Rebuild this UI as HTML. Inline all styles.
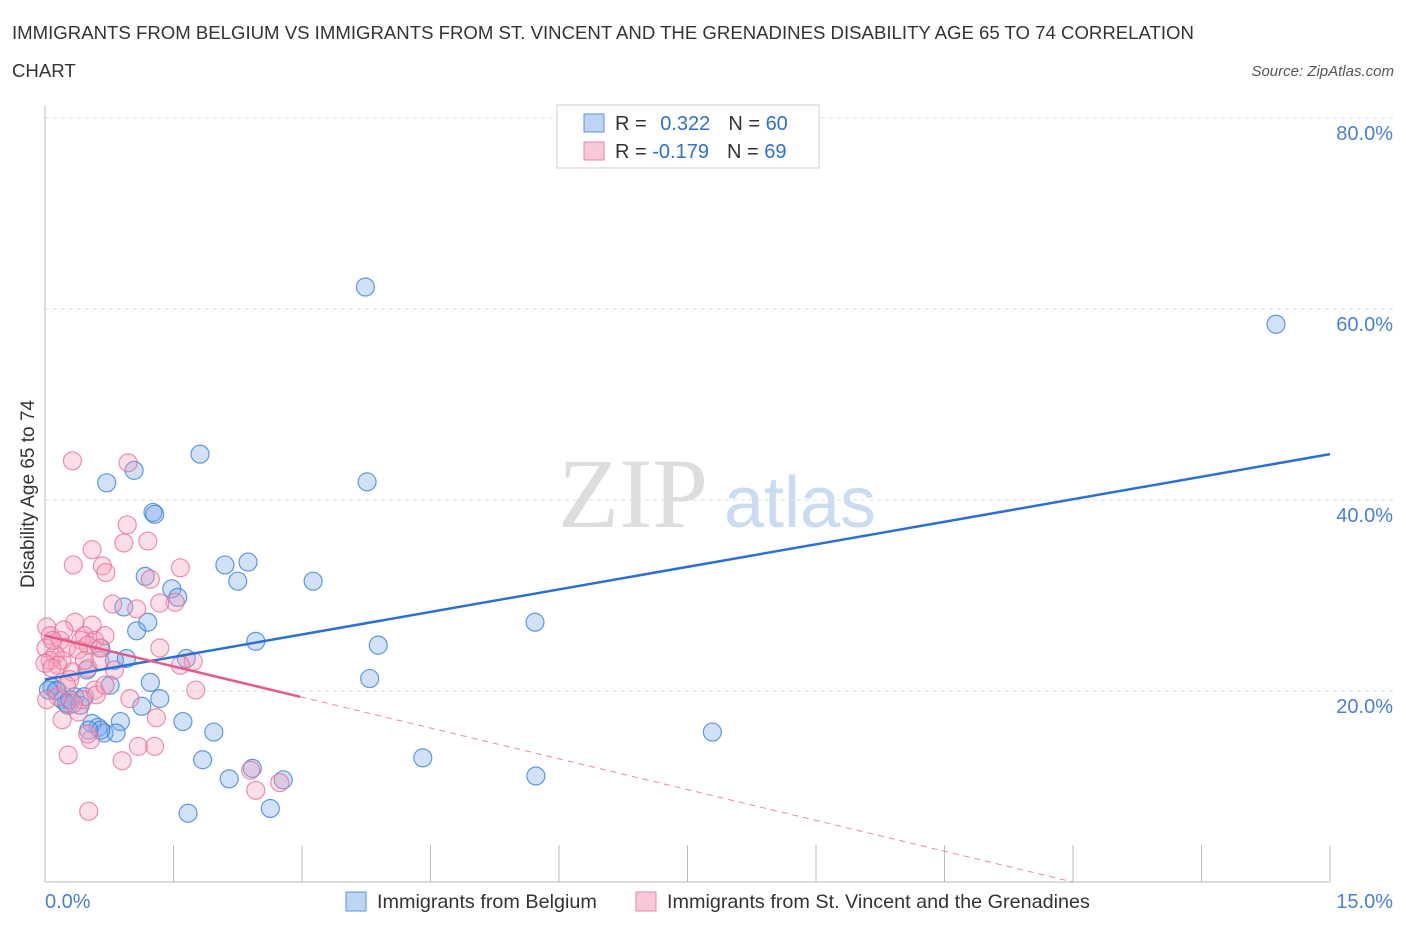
<!DOCTYPE html>
<html><head><meta charset="utf-8"><style>
body{margin:0;background:#fff;font-family:"Liberation Sans",sans-serif}
</style></head><body>
<svg id="chart" width="1406" height="930" xmlns="http://www.w3.org/2000/svg">
<text x="12" y="39" font-size="18.6" fill="#333">IMMIGRANTS FROM BELGIUM VS IMMIGRANTS FROM ST. VINCENT AND THE GRENADINES DISABILITY AGE 65 TO 74 CORRELATION</text>
<text x="12" y="77" font-size="18.6" fill="#333">CHART</text>
<text x="1394" y="76" font-size="15" fill="#555" text-anchor="end" font-style="italic">Source: ZipAtlas.com</text>
<g>
<text x="633" y="527" font-size="100" fill="#ddd" font-family="Liberation Serif,serif" text-anchor="middle">ZIP</text>
<text x="800" y="527" font-size="72" fill="#c9dcf2" text-anchor="middle">atlas</text>
</g>
<g id="grid"></g>
<g id="marks"></g>
<text transform="translate(34,494) rotate(-90)" font-size="19" fill="#333" text-anchor="middle">Disability Age 65 to 74</text>
<g>
<rect x="557" y="105" width="262" height="63" fill="#fff" stroke="#ccc"/>
<rect x="584" y="114" width="20" height="18" fill="#bcd5f5" stroke="#5b93e0"/>
<rect x="584" y="142" width="20" height="18" fill="#f9c8d6" stroke="#e889a6"/>
<text x="615" y="130" font-size="20" fill="#333">R = <tspan fill="#2f6fd0" dx="8">0.322</tspan><tspan dx="18" fill="#333">N = </tspan><tspan fill="#2f6fd0">60</tspan></text>
<text x="615" y="158" font-size="20" fill="#333">R = <tspan fill="#2f6fd0">-0.179</tspan><tspan dx="18" fill="#333">N = </tspan><tspan fill="#2f6fd0">69</tspan></text>
</g>
<g>
<rect x="346" y="892" width="20" height="19" fill="#bcd5f5" stroke="#5b93e0"/>
<text x="377" y="908" font-size="19.8" fill="#333">Immigrants from Belgium</text>
<rect x="636" y="892" width="20" height="19" fill="#f9c8d6" stroke="#e889a6"/>
<text x="667" y="908" font-size="19.8" fill="#333">Immigrants from St. Vincent and the Grenadines</text>
</g>
</svg>
<script>
const xTicks=[0,15];
const yTicks=[20,40,60,80];
const blueX=[3.74,14.37,1.81,1.04,0.72,3.76,1.26,1.28,2.37,2.10,2.25,3.13,1.17,1.48,1.55,0.92,1.07,1.20,2.46,3.89,5.72,1.65,0.81,0.95,0.65,1.23,0.76,0.49,0.08,0.14,0.35,0.46,0.20,0.27,0.41,1.34,3.79,1.13,1.61,0.88,0.55,0.62,0.69,0.83,1.97,7.79,4.41,1.84,2.42,2.15,2.78,5.73,1.67,2.63,0.13,0.25,0.65,0.51,0.04,0.29];
const blueY=[62.3,58.4,44.8,43.1,41.8,41.9,38.7,38.5,33.5,33.2,31.5,31.5,32.0,30.7,29.8,28.8,26.3,27.2,25.2,24.8,27.2,23.4,23.2,23.4,24.5,20.9,20.6,22.2,20.4,20.1,19.4,19.4,19.1,18.5,18.5,19.2,21.3,18.4,16.8,16.8,16.6,16.2,15.6,15.6,15.7,15.7,13.0,12.8,11.9,10.8,10.7,11.1,7.2,7.7,20.0,18.7,15.9,15.9,20.1,19.1];
const pinkX=[0.32,0.97,0.96,0.55,0.92,1.20,0.33,0.67,0.71,1.58,1.23,1.52,1.34,1.07,0.79,0.35,0.55,0.02,0.06,0.18,0.46,0.58,0.42,0.50,0.64,0.25,0.01,0.12,0.20,0.06,0.15,0.0,0.32,0.50,1.34,1.73,1.58,0.81,0.08,0.29,0.58,0.60,0.99,0.15,0.39,1.30,0.20,1.09,1.28,0.53,0.50,0.27,0.90,1.76,2.40,2.46,2.74,0.51,0.64,0.39,0.22,0.46,0.70,0.44,0.02,0.33,0.25,0.09,0.70];
const pinkY=[44.1,43.9,37.4,34.8,35.5,35.7,33.2,33.1,32.4,32.9,31.7,29.3,29.2,28.6,29.1,27.2,26.9,26.7,25.8,25.3,25.8,25.3,25.3,24.8,24.5,24.5,24.5,23.8,23.2,23.2,22.7,22.9,22.0,22.4,24.5,23.1,22.7,22.2,22.4,21.2,20.1,19.6,19.2,19.4,17.8,17.2,17.0,14.2,14.2,14.9,15.5,13.3,12.7,20.1,11.7,9.6,10.4,7.4,23.2,24.3,26.4,23.2,20.6,19.1,19.1,18.7,20.6,25.3,25.8];
const blueTrend=[21.2,44.8];
const pinkTrend=[25.8,-2.15];
const pinkSolidEnd=2.98;

const NS="http://www.w3.org/2000/svg";
const X0=45,X1=1330,Y0=882,Y80=118;
const sx=v=>X0+(v/15)*(X1-X0);
const sy=v=>Y0-(v/80)*(Y0-Y80);
function mk(tag,attrs,parent){const e=document.createElementNS(NS,tag);for(const k in attrs)e.setAttribute(k,attrs[k]);parent.appendChild(e);return e;}
const grid=document.getElementById('grid'),marks=document.getElementById('marks');
yTicks.forEach(t=>{
 const l=mk('line',{x1:X0,x2:1395,y1:sy(t),y2:sy(t),stroke:'#ddd','stroke-dasharray':'4,4'},grid);
 
 
 const tx=mk('text',{x:1393,y:sy(t)+22,'font-size':20,fill:'#4a7fd4','text-anchor':'end'},grid);
 tx.textContent=t.toFixed(1)+'%';
 
 
});
for(let i=0;i<=10;i++){
 const x=sx(i*1.5);
 const l=mk('line',{x1:x,x2:x,y1:845,y2:Y0,stroke:'#bbb'},grid);
 
 
}
const ax=mk('line',{x1:X0,x2:X1,y1:Y0,y2:Y0,stroke:'#bbb'},grid);


const ay=mk('line',{x1:X0,x2:X0,y1:105,y2:Y0,stroke:'#bbb'},grid);


xTicks.forEach((t,i)=>{
 const tx=mk('text',{x:i==0?45:1393,y:908,'font-size':20,fill:'#4a7fd4','text-anchor':i==0?'start':'end'},grid);
 tx.textContent=t.toFixed(1)+'%';
 
 
});
blueX.forEach((v,i)=>{
 const c=mk('circle',{cx:sx(v),cy:sy(blueY[i]),r:9,fill:'rgba(120,170,235,0.35)',stroke:'rgba(60,130,220,0.8)','stroke-width':1.2},marks);
 
 
});
pinkX.forEach((v,i)=>{
 const c=mk('circle',{cx:sx(v),cy:sy(pinkY[i]),r:9,fill:'rgba(245,160,185,0.35)',stroke:'rgba(230,110,150,0.75)','stroke-width':1.2},marks);
 
 
});
const bl=mk('line',{x1:sx(0),y1:sy(blueTrend[0]),x2:sx(15),y2:sy(blueTrend[1]),stroke:'#2a6fd6','stroke-width':2.5},marks);


const pf=x=>pinkTrend[0]+pinkTrend[1]*x;
const pl=mk('line',{x1:sx(0),y1:sy(pf(0)),x2:sx(pinkSolidEnd),y2:sy(pf(pinkSolidEnd)),stroke:'#e55a88','stroke-width':2.5},marks);


const xEnd=-pinkTrend[0]/pinkTrend[1];
const pd=mk('line',{x1:sx(pinkSolidEnd),y1:sy(pf(pinkSolidEnd)),x2:sx(xEnd),y2:sy(0),stroke:'#e88aa8','stroke-width':1,'stroke-dasharray':'6,5'},marks);


</script>
</body></html>
